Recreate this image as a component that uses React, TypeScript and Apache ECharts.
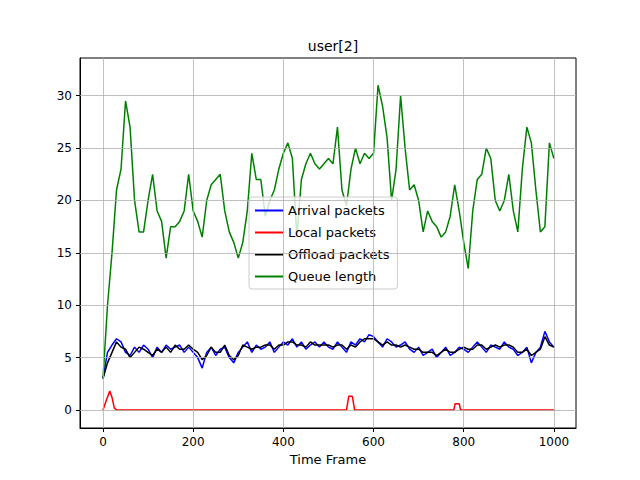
import { useEffect, useRef } from "react";
import * as echarts from "echarts";

// sampled every 10 time frames (0..1000)
const arrival = [
  3, 5.5, 6.2, 6.8, 6.5, 5.5, 5.2, 6, 5.5, 6.2,
  5.8, 5, 6, 5.5, 6.2, 5.8, 6, 6.2, 5.5, 6,
  5.5, 5, 4, 5.5, 6, 5.2, 5.8, 6, 5, 4.5,
  5.5, 6, 6.5, 5.5, 6.2, 5.8, 6, 6.5, 5.5, 6,
  6.5, 6.2, 6.8, 6, 6.5, 5.8, 6.2, 6.5, 6, 6.5,
  6, 5.8, 6.5, 6, 5.5, 6.5, 6.2, 6.8, 6.5, 7.2,
  7, 6.5, 6, 6.8, 6.5, 6, 6.2, 6.5, 5.8, 5.5,
  6, 5.2, 5.5, 5.8, 5, 5.5, 6, 5.2, 5.5, 6,
  5.8, 5.5, 6, 6.5, 6, 5.5, 6.2, 6, 5.8, 6.5,
  6, 5.8, 5.2, 5.5, 6, 4.5, 5.5, 6, 7.5, 6.5,
  6,
];
const offload = [
  3, 4.5, 5.5, 6.5, 6, 5.8, 5, 5.5, 6, 5.8,
  5.5, 5.2, 5.8, 5.5, 6, 5.5, 6.2, 5.8, 5.8, 6.2,
  5.8, 5.5, 4.8, 5.2, 6, 5.5, 5.5, 6.2, 5.2, 4.8,
  5.2, 6.2, 6, 5.8, 6, 6, 6.2, 6.2, 5.8, 6.2,
  6.2, 6.5, 6.5, 6.2, 6.2, 6, 6.5, 6.2, 6.2, 6.2,
  6.2, 6, 6.2, 6.2, 5.8, 6.2, 6, 6.5, 6.8, 6.8,
  6.8, 6.5, 6.2, 6.5, 6.2, 6.2, 6, 6.2, 6, 5.8,
  5.8, 5.5, 5.5, 5.5, 5.2, 5.5, 5.8, 5.5, 5.5, 5.8,
  6, 5.8, 5.8, 6.2, 6.2, 5.8, 6, 6.2, 6, 6.2,
  6.2, 6, 5.5, 5.5, 5.8, 5.2, 5.5, 5.8, 7, 6.2,
  6,
];
const queue = [
  3, 10, 15, 21, 23, 29.5, 27, 20, 17, 17,
  20, 22.5, 19, 18, 14.5, 17.5, 17.5, 18, 19, 22.5,
  19, 18, 16.5, 20, 21.5, 22, 22.5, 19, 17, 16,
  14.5, 16, 19, 24.5, 22, 22, 18.5, 20, 21, 23,
  24.5, 25.5, 24, 16.5, 22, 23.5, 24.5, 23.5, 23, 23.5,
  24, 23.5, 27, 21, 19.5, 23, 25, 23.5, 24.5, 24,
  24.5, 31, 29, 26, 20, 23, 30, 25, 21, 21.5,
  20, 17, 19, 18, 17.5, 16.5, 17, 18.5, 21.5, 19,
  16, 13.5, 19, 22, 22.5, 25, 24, 20, 19, 20,
  22.5, 19, 17, 23, 27, 25.5, 21, 17, 17.5, 25.5,
  24,
];
const localX = [0, 8, 15, 20, 25, 30, 540, 545, 553, 558, 778, 781, 790, 793, 1000];
const localY = [0, 1, 1.8, 1.2, 0.2, 0, 0, 1.3, 1.3, 0, 0, 0.6, 0.6, 0, 0];
const xTicks = [0, 200, 400, 600, 800, 1000];
const yTicks = [0, 5, 10, 15, 20, 25, 30];

const step = (arr: number[]) => arr.map((v, i) => [i * 10, v]);

export default function App() {
  const ref = useRef<HTMLDivElement>(null);

  useEffect(() => {
    if (!ref.current) return;
    const chart = echarts.init(ref.current, null, { renderer: "svg" });
    const font = "DejaVu Sans";
    const gridStyle = { color: "#b0b0b0", width: 0.8, type: "solid" as const };

    chart.setOption({
      animation: false,
      textStyle: { fontFamily: font },
      title: {
        text: "user[2]",
        left: 328,
        top: 34,
        textAlign: "center",
        textStyle: { fontFamily: font, fontSize: 14, fontWeight: "normal", color: "#000" },
      },
      grid: { left: 80, right: 64, top: 58, bottom: 52, show: true, borderColor: "#000", borderWidth: 1 },
      legend: {
        orient: "vertical",
        left: 249,
        top: 197,
        itemWidth: 28,
        itemHeight: 2,
        itemGap: 9,
        padding: [7, 8, 6, 6],
        backgroundColor: "rgba(255,255,255,0.8)",
        borderColor: "#cccccc",
        borderWidth: 1,
        borderRadius: 3,
        icon: "rect",
        textStyle: { fontFamily: font, fontSize: 13, color: "#000" },
        data: ["Arrival packets", "Local packets", "Offload packets", "Queue length"],
      },
      xAxis: {
        type: "value",
        min: -51,
        max: 1049,
        name: "Time Frame",
        nameLocation: "middle",
        nameGap: 24,
        nameTextStyle: { fontFamily: font, fontSize: 13, color: "#000" },
        axisLine: { onZero: false, lineStyle: { color: "#000" } },
        axisTick: { customValues: xTicks, length: 4, lineStyle: { color: "#000" } },
        axisLabel: { customValues: xTicks, color: "#000", fontSize: 12, formatter: (v: number) => String(v) },
        splitLine: { show: false },
      },
      yAxis: {
        type: "value",
        min: -1.72,
        max: 33.6,
        axisLine: { show: true, onZero: false, lineStyle: { color: "#000" } },
        axisTick: { show: true, customValues: yTicks, length: 4, lineStyle: { color: "#000" } },
        axisLabel: { customValues: yTicks, color: "#000", fontSize: 12, formatter: (v: number) => String(v) },
        splitLine: { show: false },
      },
      series: [
        {
          name: "Arrival packets",
          type: "line",
          data: step(arrival),
          showSymbol: false,
          lineStyle: { color: "#0000ff", width: 1.5 },
          itemStyle: { color: "#0000ff" },
          z: 3,
          markLine: {
            silent: true,
            symbol: "none",
            label: { show: false },
            lineStyle: gridStyle,
            data: [
              ...xTicks.map((v) => ({ xAxis: v })),
              ...yTicks.map((v) => ({ yAxis: v })),
            ],
          },
        },
        {
          name: "Local packets",
          type: "line",
          data: localX.map((x, i) => [x, localY[i]]),
          showSymbol: false,
          lineStyle: { color: "#ff0000", width: 1.5 },
          itemStyle: { color: "#ff0000" },
          z: 3,
        },
        {
          name: "Offload packets",
          type: "line",
          data: step(offload),
          showSymbol: false,
          lineStyle: { color: "#000000", width: 1.5 },
          itemStyle: { color: "#000000" },
          z: 3,
        },
        {
          name: "Queue length",
          type: "line",
          data: step(queue),
          showSymbol: false,
          lineStyle: { color: "#008000", width: 1.5 },
          itemStyle: { color: "#008000" },
          z: 3,
        },
      ],
    });

    return () => chart.dispose();
  }, []);

  return <div ref={ref} style={{ width: 640, height: 480, margin: -8 }} />;
}
